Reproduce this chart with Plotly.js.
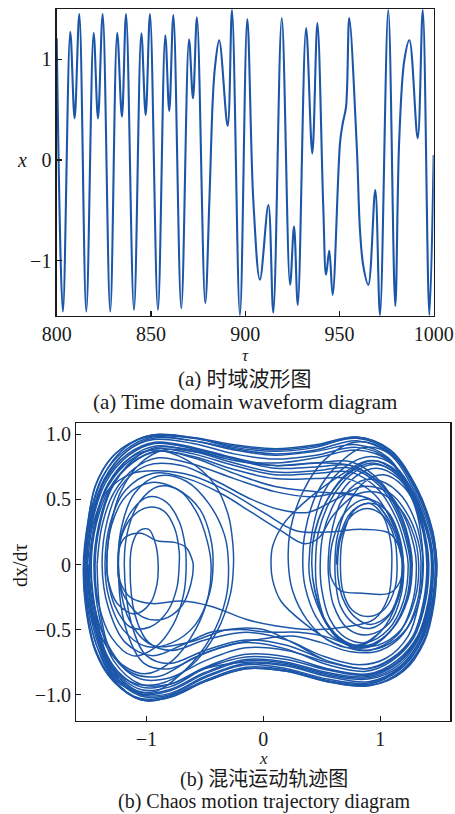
<!DOCTYPE html>
<html>
<head>
<meta charset="utf-8">
<script src="https://cdn.plot.ly/plotly-3.0.1.min.js"></script>
<style>
  html, body { margin: 0; padding: 0; background: #ffffff; }
  #chart { width: 455px; height: 814px; }
</style>
</head>
<body>
<div id="chart"></div>
<script>
// ---- (a) time-domain waveform: turning points and shoulders of x(τ) ----
const tauValues = [800.0, 803.3, 807.2, 809.5, 812.0, 815.7, 819.6, 821.9, 824.4, 828.4,
  832.1, 834.6, 836.8, 841.0, 844.9, 847.2, 849.5, 853.7, 857.6, 859.7,
  861.9, 866.1, 870.2, 872.3, 874.4, 878.8, 881.0, 882.8, 884.0, 886.2,
  890.7, 893.0, 897.2, 901.1, 904.3, 907.8, 912.3, 914.9, 919.4, 923.8,
  925.9, 927.9, 932.3, 935.6, 938.3, 941.4, 942.9, 944.6, 946.4, 950.3,
  951.7, 953.5, 955.2, 959.2, 960.9, 962.7, 965.3, 969.0, 971.5, 975.9,
  979.6, 981.7, 984.4, 987.1, 991.5, 994.2, 997.7, 1000.0];
const xValues = [1.21, -1.506, 1.274, 0.414, 1.45, -1.506, 1.264, 0.414, 1.45, -1.506,
  1.264, 0.43, 1.45, -1.49, 1.258, 0.447, 1.45, -1.49, 1.24, 0.487,
  1.44, -1.473, 1.20, 0.613, 1.417, -1.423, -0.40, 0.60, 0.93, 1.19,
  0.338, 1.49, -1.54, 1.40, -0.40, -1.19, -0.447, -1.516, 1.41, -1.24,
  -0.66, -1.44, 1.31, 0.066, 1.36, -0.46, -1.14, -0.90, -1.34, 0.17,
  0.36, 0.53, 1.41, 0.13, -0.70, -1.06, -1.24, -0.298, -1.54, 1.49,
  -1.45, 0.20, 0.99, 1.19, 0.215, 1.49, -1.54, 0.05];

const timeTicks = [800, 850, 900, 950, 1000];
const xTicks = [-1, 0, 1];

// ---- (b) phase trajectory (x, dx/dτ), stored as continuous runs ----
const orbitRunA = [
  [-1.53,0],[-1.50,0.32],[-1.44,0.60],[-1.30,0.82],[-1.10,0.95],[-0.92,0.99],[-0.6,0.97],[-0.25,0.91],[0.1,0.88],[0.45,0.91],[0.8,0.97],[1.08,0.87],[1.3,0.58],[1.44,0.26],[1.485,0],
  [1.45,-0.3],[1.36,-0.58],[1.18,-0.8],[0.9,-0.92],[0.55,-0.89],[0.2,-0.81],[-0.15,-0.79],[-0.5,-0.89],[-0.8,-1.01],[-1.05,-1.03],[-1.28,-0.9],[-1.43,-0.68],[-1.51,-0.35],[-1.535,0],
  [-1.47,0.35],[-1.36,0.64],[-1.16,0.85],[-0.93,0.94],[-0.6,0.9],[-0.25,0.82],[0.1,0.76],[0.45,0.78],[0.75,0.79],[1.0,0.64],[1.18,0.38],[1.26,0.13],[1.275,0],
  [1.24,-0.26],[1.1,-0.5],[0.9,-0.62],[0.7,-0.59],[0.53,-0.43],[0.44,-0.19],[0.415,0],
  [0.44,0.24],[0.55,0.5],[0.72,0.69],[0.93,0.78],[1.13,0.7],[1.31,0.47],[1.42,0.19],[1.45,0],
  [1.42,-0.3],[1.33,-0.57],[1.16,-0.77],[0.9,-0.87],[0.55,-0.84],[0.2,-0.76],[-0.15,-0.74],[-0.5,-0.84],[-0.8,-0.97],[-1.05,-0.99],[-1.3,-0.8],[-1.44,-0.45],[-1.51,0],
  [-1.46,0.34],[-1.35,0.63],[-1.15,0.84],[-0.93,0.93],[-0.6,0.89],[-0.25,0.81],[0.1,0.74],[0.45,0.75],[0.75,0.76],[1.0,0.62],[1.17,0.37],[1.25,0.12],[1.265,0],
  [1.23,-0.27],[1.09,-0.51],[0.9,-0.63],[0.7,-0.6],[0.53,-0.44],[0.44,-0.2],[0.415,0],
  [0.44,0.25],[0.56,0.52],[0.73,0.71],[0.94,0.8],[1.14,0.72],[1.32,0.48],[1.43,0.19],[1.455,0],
  [1.43,-0.31],[1.34,-0.58],[1.17,-0.79],[0.9,-0.9],[0.55,-0.86],[0.2,-0.78],[-0.15,-0.76],[-0.5,-0.86],[-0.8,-0.99],[-1.05,-1.0],[-1.3,-0.82],[-1.45,-0.46],[-1.505,0]
];

const orbitRunB = [
  [-1.49,0],[-1.44,0.33],[-1.33,0.61],[-1.14,0.82],[-0.92,0.91],[-0.6,0.87],[-0.25,0.78],[0.1,0.71],[0.45,0.72],[0.75,0.74],[1.0,0.6],[1.16,0.36],[1.24,0.12],[1.258,0],
  [1.22,-0.28],[1.08,-0.52],[0.88,-0.64],[0.68,-0.6],[0.54,-0.45],[0.46,-0.2],[0.447,0],
  [0.47,0.24],[0.58,0.5],[0.75,0.69],[0.95,0.77],[1.15,0.69],[1.32,0.46],[1.43,0.18],[1.45,0],
  [1.42,-0.29],[1.33,-0.55],[1.15,-0.75],[0.9,-0.85],[0.55,-0.81],[0.2,-0.73],[-0.15,-0.71],[-0.5,-0.8],[-0.8,-0.94],[-1.05,-0.96],[-1.3,-0.78],[-1.43,-0.44],[-1.49,0],
  [-1.44,0.32],[-1.33,0.6],[-1.14,0.8],[-0.92,0.89],[-0.6,0.85],[-0.25,0.76],[0.1,0.69],[0.45,0.7],[0.75,0.71],[0.98,0.58],[1.14,0.35],[1.22,0.12],[1.24,0],
  [1.2,-0.28],[1.07,-0.5],[0.88,-0.6],[0.7,-0.56],[0.57,-0.42],[0.5,-0.19],[0.487,0],
  [0.51,0.23],[0.62,0.49],[0.78,0.67],[0.97,0.74],[1.16,0.66],[1.32,0.44],[1.42,0.17],[1.44,0],
  [1.41,-0.29],[1.32,-0.55],[1.14,-0.74],[0.9,-0.84],[0.55,-0.8],[0.2,-0.71],[-0.15,-0.69],[-0.5,-0.79],[-0.8,-0.92],[-1.05,-0.94],[-1.3,-0.76],[-1.42,-0.43],[-1.473,0],
  [-1.43,0.31],[-1.32,0.58],[-1.13,0.78],[-0.92,0.87],[-0.6,0.83],[-0.25,0.73],[0.1,0.66],[0.45,0.66],[0.72,0.66],[0.95,0.54],[1.1,0.33],[1.18,0.11],[1.2,0],
  [1.17,-0.22],[1.07,-0.4],[0.92,-0.49],[0.77,-0.45],[0.66,-0.32],[0.62,-0.14],[0.613,0],
  [0.63,0.2],[0.72,0.45],[0.86,0.63],[1.03,0.69],[1.2,0.6],[1.33,0.4],[1.4,0.16],[1.417,0],
  [1.39,-0.28],[1.3,-0.53],[1.13,-0.71],[0.9,-0.8],[0.55,-0.75],[0.2,-0.66],[-0.15,-0.64],[-0.5,-0.74],[-0.8,-0.87],[-1.05,-0.88],[-1.28,-0.71],[-1.39,-0.4],[-1.423,0]
];

const orbitRunC = [
  [-1.423,0],[-1.38,0.3],[-1.28,0.55],[-1.1,0.74],[-0.9,0.82],[-0.6,0.77],[-0.25,0.66],[0.1,0.56],[0.4,0.52],[0.7,0.55],[0.95,0.48],[1.1,0.3],[1.17,0.1],[1.19,0],
  [1.15,-0.26],[1.02,-0.5],[0.8,-0.62],[0.6,-0.56],[0.45,-0.4],[0.36,-0.18],[0.338,0],
  [0.36,0.26],[0.46,0.55],[0.63,0.76],[0.86,0.9],[1.1,0.84],[1.32,0.56],[1.45,0.22],[1.48,0],
  [1.46,-0.31],[1.38,-0.59],[1.2,-0.82],[0.92,-0.93],[0.55,-0.9],[0.2,-0.82],[-0.15,-0.8],[-0.5,-0.9],[-0.8,-1.02],[-1.05,-1.04],[-1.29,-0.89],[-1.44,-0.66],[-1.52,-0.33],[-1.54,0],
  [-1.49,0.36],[-1.38,0.67],[-1.18,0.88],[-0.95,0.98],[-0.6,0.95],[-0.25,0.88],[0.1,0.84],[0.45,0.87],[0.8,0.92],[1.07,0.82],[1.26,0.54],[1.37,0.24],[1.40,0],
  [1.37,-0.29],[1.28,-0.55],[1.1,-0.72],[0.88,-0.8],[0.55,-0.74],[0.2,-0.62],[-0.15,-0.58],[-0.5,-0.66],[-0.8,-0.76],[-1.0,-0.7],[-1.13,-0.45],[-1.19,0],
  [-1.16,0.26],[-1.06,0.48],[-0.9,0.6],[-0.72,0.57],[-0.57,0.4],[-0.48,0.18],[-0.447,0],
  [-0.47,-0.24],[-0.58,-0.5],[-0.78,-0.74],[-1.02,-0.84],[-1.27,-0.72],[-1.45,-0.4],[-1.516,0],
  [-1.47,0.35],[-1.36,0.65],[-1.17,0.87],[-0.94,0.96],[-0.6,0.93],[-0.25,0.85],[0.1,0.81],[0.45,0.84],[0.8,0.9],[1.07,0.81],[1.27,0.55],[1.38,0.24],[1.41,0],
  [1.38,-0.3],[1.29,-0.56],[1.1,-0.74],[0.88,-0.82],[0.55,-0.77],[0.2,-0.65],[-0.15,-0.6],[-0.5,-0.68],[-0.8,-0.8],[-1.02,-0.76],[-1.18,-0.48],[-1.24,0],
  [-1.21,0.24],[-1.12,0.42],[-0.98,0.52],[-0.83,0.48],[-0.72,0.33],[-0.67,0.15],[-0.66,0],
  [-0.68,-0.22],[-0.77,-0.46],[-0.93,-0.64],[-1.12,-0.7],[-1.3,-0.56],[-1.41,-0.3],[-1.44,0],
  [-1.4,0.3],[-1.3,0.58],[-1.12,0.8],[-0.92,0.9],[-0.6,0.88],[-0.25,0.8],[0.1,0.76],[0.45,0.78],[0.75,0.76],[1.0,0.62],[1.2,0.38],[1.29,0.14],[1.31,0],
  [1.28,-0.28],[1.15,-0.54],[0.9,-0.66],[0.6,-0.6],[0.35,-0.45],[0.15,-0.28],[0.08,-0.12],[0.066,0],
  [0.08,0.14],[0.18,0.32],[0.38,0.5],[0.65,0.68],[0.92,0.8],[1.15,0.7],[1.3,0.44],[1.36,0.15],[1.365,0],
  [1.33,-0.3],[1.24,-0.55],[1.05,-0.72],[0.82,-0.77],[0.5,-0.7],[0.2,-0.58],[-0.15,-0.52],[-0.5,-0.58],[-0.78,-0.66],[-0.98,-0.6],[-1.1,-0.38],[-1.14,0],
  [-1.12,0.16],[-1.06,0.26],[-0.98,0.27],[-0.92,0.15],[-0.9,0],
  [-0.91,-0.15],[-0.97,-0.3],[-1.1,-0.38],[-1.25,-0.3],[-1.32,-0.15],[-1.34,0],
  [-1.31,0.28],[-1.22,0.56],[-1.05,0.78],[-0.85,0.88],[-0.55,0.86],[-0.25,0.8],[0.1,0.78],[0.45,0.82],[0.8,0.88],[1.07,0.8],[1.27,0.54],[1.38,0.24],[1.41,0],
  [1.38,-0.29],[1.29,-0.54],[1.1,-0.72],[0.88,-0.8],[0.55,-0.74],[0.25,-0.6],[0.0,-0.5],[-0.3,-0.5],[-0.65,-0.6],[-0.95,-0.62],[-1.15,-0.42],[-1.24,0],
  [-1.21,0.3],[-1.1,0.55],[-0.9,0.68],[-0.66,0.64],[-0.46,0.46],[-0.33,0.22],[-0.298,0],
  [-0.32,-0.26],[-0.45,-0.56],[-0.68,-0.82],[-0.95,-0.98],[-1.22,-0.92],[-1.42,-0.64],[-1.51,-0.3],[-1.54,0],
  [-1.5,0.34],[-1.43,0.62],[-1.28,0.84],[-1.08,0.96],[-0.9,1.0],[-0.6,0.975],[-0.25,0.9],[0.1,0.87],[0.45,0.9],[0.8,0.98],[1.08,0.88],[1.32,0.58],[1.45,0.24],[1.485,0],
  [1.45,-0.3],[1.35,-0.57],[1.17,-0.78],[0.9,-0.88],[0.55,-0.85],[0.2,-0.77],[-0.15,-0.75],[-0.5,-0.8],[-0.8,-0.92],[-1.05,-0.92],[-1.28,-0.74],[-1.4,-0.42],[-1.45,0],
  [-1.41,0.3],[-1.31,0.58],[-1.12,0.78],[-0.9,0.87],[-0.6,0.82],[-0.25,0.7],[0.1,0.6],[0.45,0.56],[0.7,0.54],[0.92,0.5],[1.08,0.33],[1.17,0.12],[1.19,0],
  [1.15,-0.27],[1.0,-0.52],[0.78,-0.64],[0.55,-0.58],[0.37,-0.42],[0.25,-0.2],[0.215,0],
  [0.23,0.26],[0.34,0.56],[0.52,0.8],[0.78,0.94],[1.05,0.88],[1.3,0.6],[1.45,0.24],[1.48,0],
  [1.46,-0.31],[1.37,-0.59],[1.19,-0.81],[0.92,-0.93],[0.55,-0.9],[0.2,-0.82],[-0.15,-0.8],[-0.5,-0.9],[-0.8,-1.02],[-1.05,-1.035],[-1.3,-0.86],[-1.47,-0.49],[-1.54,0]
];

// inner right-well loops with the two flat chords
const orbitRunD = [
  [-1.505,0],[-1.46,0.3],[-1.34,0.56],[-1.12,0.7],[-0.9,0.72],[-0.6,0.68],[-0.3,0.56],[0.0,0.4],[0.28,0.26],[0.55,0.25],[0.85,0.27],[1.08,0.24],[1.17,0.12],[1.19,0],
  [1.17,-0.13],[1.08,-0.22],[0.85,-0.22],[0.66,-0.2],[0.58,-0.1],[0.57,0],
  [0.6,0.2],[0.7,0.4],[0.86,0.5],[1.01,0.46],[1.12,0.3],[1.18,0.1],[1.19,0],
  [1.17,-0.18],[1.08,-0.38],[0.92,-0.46],[0.78,-0.4],[0.68,-0.26],[0.64,-0.1],[0.635,0],
  [0.66,0.2],[0.75,0.37],[0.89,0.43],[1.03,0.37],[1.12,0.21],[1.145,0],
  [1.13,-0.17],[1.04,-0.34],[0.9,-0.4],[0.76,-0.35],[0.68,-0.2],[0.66,0],
  [0.68,0.21],[0.77,0.41],[0.91,0.47],[1.06,0.41],[1.16,0.23],[1.2,0],
  [1.18,-0.23],[1.08,-0.45],[0.9,-0.54],[0.72,-0.49],[0.6,-0.31],[0.56,-0.1],[0.555,0],
  [0.58,0.23],[0.67,0.49],[0.83,0.64],[1.01,0.64],[1.19,0.52],[1.31,0.31],[1.36,0.1],[1.37,0],
  [1.34,-0.26],[1.23,-0.49],[1.03,-0.63],[0.8,-0.65],[0.6,-0.53],[0.47,-0.33],[0.4,-0.12],[0.39,0],
  [0.42,0.26],[0.52,0.56],[0.7,0.75],[0.92,0.83],[1.12,0.76],[1.3,0.53],[1.42,0.21],[1.45,0],
  [1.42,-0.3],[1.33,-0.56],[1.15,-0.76],[0.9,-0.86],[0.55,-0.83],[0.2,-0.75],[-0.15,-0.73],[-0.5,-0.83],[-0.8,-0.96],[-1.05,-0.98],[-1.3,-0.79],[-1.44,-0.45],[-1.5,0]
];

// low-energy passages and the small left-well loops
const orbitRunE = [
  [0.625,0],[0.65,0.2],[0.75,0.4],[0.9,0.47],[1.02,0.38],[1.09,0.18],[1.1,0],
  [1.07,-0.25],[0.95,-0.42],[0.7,-0.48],[0.4,-0.5],[0.1,-0.47],[-0.15,-0.42],[-0.45,-0.32],[-0.7,-0.28],[-0.95,-0.3],[-1.14,-0.25],[-1.23,-0.12],[-1.245,0],
  [-1.235,0.12],[-1.18,0.21],[-1.05,0.24],[-0.9,0.18],[-0.76,0.17],[-0.66,0.13],[-0.61,0.04],[-0.6,0],
  [-0.62,-0.15],[-0.7,-0.32],[-0.86,-0.42],[-1.04,-0.4],[-1.18,-0.26],[-1.24,-0.1],[-1.245,0],
  [-1.22,0.2],[-1.12,0.37],[-0.98,0.44],[-0.85,0.41],[-0.76,0.28],[-0.72,0.1],[-0.72,0],
  [-0.74,-0.18],[-0.82,-0.36],[-0.97,-0.48],[-1.14,-0.48],[-1.27,-0.32],[-1.33,-0.12],[-1.34,0],
  [-1.3,0.3],[-1.17,0.53],[-0.96,0.63],[-0.74,0.58],[-0.54,0.42],[-0.45,0.2],[-0.43,0],
  [-0.46,-0.22],[-0.58,-0.46],[-0.78,-0.6],[-1.0,-0.63],[-1.2,-0.5],[-1.32,-0.26],[-1.355,0],
  [-1.31,0.32],[-1.18,0.57],[-0.95,0.7],[-0.65,0.66],[-0.35,0.54],[-0.1,0.4],[0.15,0.26],[0.35,0.16],[0.47,0.2],[0.6,0.38],[0.8,0.54],[1.0,0.55],[1.17,0.43],[1.29,0.22],[1.33,0],
  [1.3,-0.26],[1.18,-0.5],[0.98,-0.62],[0.75,-0.62],[0.52,-0.55],[0.3,-0.52],[0.05,-0.52],[-0.2,-0.5],[-0.45,-0.52],[-0.7,-0.62],[-0.95,-0.7],[-1.18,-0.6],[-1.33,-0.32],[-1.38,0],
  [-1.34,0.32],[-1.22,0.6],[-1.0,0.76],[-0.7,0.76],[-0.4,0.64],[-0.1,0.5],[0.15,0.42],[0.38,0.4],[0.62,0.5],[0.85,0.6],[1.08,0.55],[1.25,0.36],[1.34,0.12],[1.35,0],
  [1.32,-0.28],[1.2,-0.53],[1.0,-0.66],[0.75,-0.67],[0.5,-0.6],[0.25,-0.55],[0.0,-0.57],[-0.3,-0.62],[-0.6,-0.72],[-0.9,-0.86],[-1.15,-0.82],[-1.34,-0.6],[-1.45,-0.3],[-1.48,0]
];

const orbitRunF = [
  [-1.48,0],[-1.44,0.33],[-1.33,0.62],[-1.14,0.82],[-0.92,0.88],[-0.65,0.8],[-0.42,0.62],[-0.3,0.38],[-0.26,0.15],[-0.255,0],
  [-0.28,-0.22],[-0.4,-0.52],[-0.62,-0.78],[-0.9,-0.92],[-1.18,-0.88],[-1.4,-0.58],[-1.5,-0.25],[-1.52,0],
  [-1.47,0.36],[-1.36,0.66],[-1.17,0.87],[-0.94,0.97],[-0.6,0.95],[-0.25,0.89],[0.1,0.85],[0.45,0.88],[0.8,0.95],[1.08,0.85],[1.29,0.57],[1.43,0.25],[1.47,0],
  [1.44,-0.31],[1.35,-0.59],[1.17,-0.8],[0.9,-0.91],[0.55,-0.88],[0.2,-0.8],[-0.15,-0.77],[-0.5,-0.87],[-0.8,-1.0],[-1.05,-1.01],[-1.3,-0.83],[-1.46,-0.47],[-1.53,0],
  [-1.48,0.37],[-1.37,0.68],[-1.18,0.9],[-0.95,0.995],[-0.6,0.975],[-0.25,0.92],[0.1,0.89],[0.45,0.92],[0.8,0.98],[1.09,0.88],[1.31,0.59],[1.45,0.26],[1.48,0],
  [1.45,-0.32],[1.37,-0.6],[1.19,-0.82],[0.9,-0.93],[0.55,-0.9],[0.2,-0.82],[-0.15,-0.8],[-0.5,-0.9],[-0.8,-1.02],[-1.05,-1.04],[-1.3,-0.87],[-1.45,-0.62],[-1.52,-0.3],[-1.535,0]
];

const phaseXTicks = [-1, 0, 1];
const phaseYTicks = [-1, -0.5, 0, 0.5, 1];
const phaseYLabels = ['\u22121.0', '\u22120.5', '0', '0.5', '1.0'];

// ---- drawing ----
const lineBlue = '#1c56a8';
const serif = '"Liberation Serif", "Noto Sans CJK SC", serif';
const inkColor = '#1a1a1a';

const phaseRuns = [orbitRunA, orbitRunB, orbitRunC, orbitRunD, orbitRunE, orbitRunF];

const traces = [{
  type: 'scatter', mode: 'lines',
  x: tauValues, y: xValues,
  xaxis: 'x', yaxis: 'y',
  line: { color: lineBlue, width: 2.1, shape: 'spline', smoothing: 1 },
  hoverinfo: 'skip'
}];

phaseRuns.forEach(run => {
  traces.push({
    type: 'scatter', mode: 'lines',
    x: run.map(p => p[0]), y: run.map(p => p[1]),
    xaxis: 'x2', yaxis: 'y2',
    line: { color: lineBlue, width: 1.5, shape: 'spline', smoothing: 1 },
    hoverinfo: 'skip'
  });
});

const axisCommon = {
  showgrid: false, zeroline: false,
  showline: true, mirror: true, linecolor: inkColor, linewidth: 1.3,
  ticks: 'inside', ticklen: 5, tickwidth: 1.2, tickcolor: inkColor,
  tickfont: { family: serif, size: 20, color: inkColor }
};

const captionFont = { family: serif, size: 21, color: inkColor };
const lowerCaptionFont = { family: serif, size: 20, color: inkColor };
const titleFont = { family: serif, size: 17, color: inkColor };

function label(text, px, py, font, extra) {
  return Object.assign({
    text: text, xref: 'paper', yref: 'paper', x: px / 455, y: 1 - py / 814,
    xanchor: 'center', yanchor: 'middle', showarrow: false, font: font
  }, extra || {});
}

const layout = {
  width: 455, height: 814,
  margin: { l: 0, r: 0, t: 0, b: 0 },
  paper_bgcolor: '#ffffff', plot_bgcolor: '#ffffff',
  showlegend: false,
  font: { family: serif, color: inkColor },
  xaxis: Object.assign({}, axisCommon, {
    domain: [0.1246, 0.9532], anchor: 'y',
    range: [800, 1000], tickvals: timeTicks
  }),
  yaxis: Object.assign({}, axisCommon, {
    domain: [0.6118, 0.9889], anchor: 'x',
    range: [-1.55, 1.5], tickvals: xTicks
  }),
  xaxis2: Object.assign({}, axisCommon, {
    domain: [0.1679, 0.9895], anchor: 'y2',
    range: [-1.6, 1.6], tickvals: phaseXTicks
  }),
  yaxis2: Object.assign({}, axisCommon, {
    domain: [0.1146, 0.4803], anchor: 'x2',
    range: [-1.2, 1.087], tickvals: phaseYTicks, ticktext: phaseYLabels
  }),
  annotations: [
    // axis titles
    label('<i>τ</i>', 245, 356, titleFont),
    label('<i>x</i>', 22, 160, { family: serif, size: 20, color: inkColor }),
    label('<i>x</i>', 263, 758, titleFont),
    label('dx/dτ', 20, 565, { family: serif, size: 20, color: inkColor }, { textangle: -90 }),
    // captions
    label('(a) 时域波形图', 245, 379, captionFont),
    label('(a) Time domain waveform diagram', 245, 402, captionFont),
    label('(b) 混沌运动轨迹图', 264, 779, lowerCaptionFont),
    label('(b) Chaos motion trajectory diagram', 264, 801, lowerCaptionFont)
  ]
};

Plotly.newPlot('chart', traces, layout, { staticPlot: true, displayModeBar: false });
</script>
</body>
</html>
